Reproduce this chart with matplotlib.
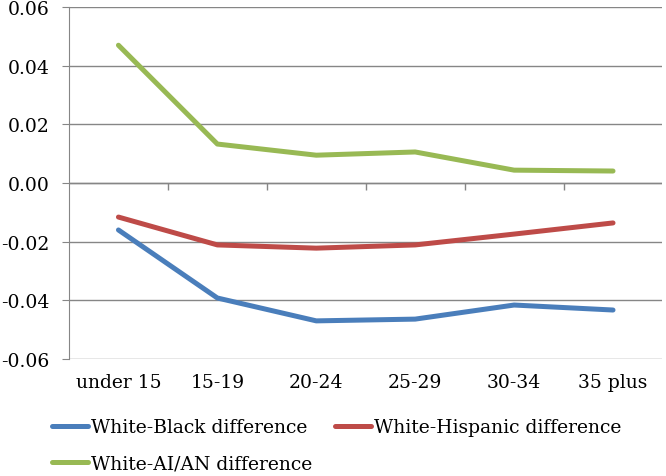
import numpy as np
import matplotlib.pyplot as plt

# --- Data ---
age_groups = ["under 15", "15-19", "20-24", "25-29", "30-34", "35 plus"]
white_black = [-0.0160, -0.0392, -0.0470, -0.0464, -0.0416, -0.0433]
white_hispanic = [-0.0116, -0.0211, -0.0222, -0.0211, -0.0174, -0.0136]
white_aian = [0.0470, 0.0133, 0.0095, 0.0106, 0.0044, 0.0041]

# --- Colors (Excel 2007 palette) ---
blue = "#4A7EBB"
red = "#BE4B48"
green = "#98B954"
grid_gray = "#868686"

plt.rcParams['font.family'] = ['DejaVu Serif']

fig = plt.figure(figsize=(6.66, 4.77), dpi=100)
ax = fig.add_axes([0.1036, 0.2453, 0.8911, 0.7377])

x = np.arange(len(age_groups))
l1, = ax.plot(x, white_black, color=blue, lw=3.6, solid_capstyle='round', label="White-Black difference")
l2, = ax.plot(x, white_hispanic, color=red, lw=3.6, solid_capstyle='round', label="White-Hispanic difference")
l3, = ax.plot(x, white_aian, color=green, lw=3.6, solid_capstyle='round', label="White-AI/AN difference")

ax.set_xlim(-0.5, len(age_groups) - 0.5)
ax.set_ylim(-0.06, 0.06)
yticks = np.arange(-0.06, 0.061, 0.02)
ax.set_yticks(yticks)
ax.set_yticklabels([f"{v:.2f}" for v in yticks], fontsize=13.5)
ax.grid(axis='y', color=grid_gray, lw=1)
ax.set_axisbelow(True)

# x axis crosses at zero, with tick marks between categories
ax.axhline(0, color=grid_gray, lw=1, zorder=1)
bounds = np.arange(0.5, len(age_groups) - 1, 1.0)
ax.vlines(bounds, -0.0022, 0, color=grid_gray, lw=1, zorder=1)

ax.set_xticks(x)
ax.set_xticklabels(age_groups, fontsize=13.5)
ax.tick_params(axis='x', length=0, pad=10)
ax.tick_params(axis='y', length=5, color=grid_gray, pad=9)

for s in ['top', 'right', 'bottom']:
    ax.spines[s].set_visible(False)
ax.spines['left'].set_color(grid_gray)

# legend: row 1 Black, Hispanic; row 2 AI/AN
fig.legend([l1, l3, l2], [l1.get_label(), l3.get_label(), l2.get_label()],
           loc='lower left', bbox_to_anchor=(0.072, 0.0), ncol=2, frameon=False,
           fontsize=13.5, handlelength=1.95, handletextpad=0.15, columnspacing=1.2,
           labelspacing=0.95, borderpad=0.2, borderaxespad=0)

fig.savefig("out.png", dpi=100)
